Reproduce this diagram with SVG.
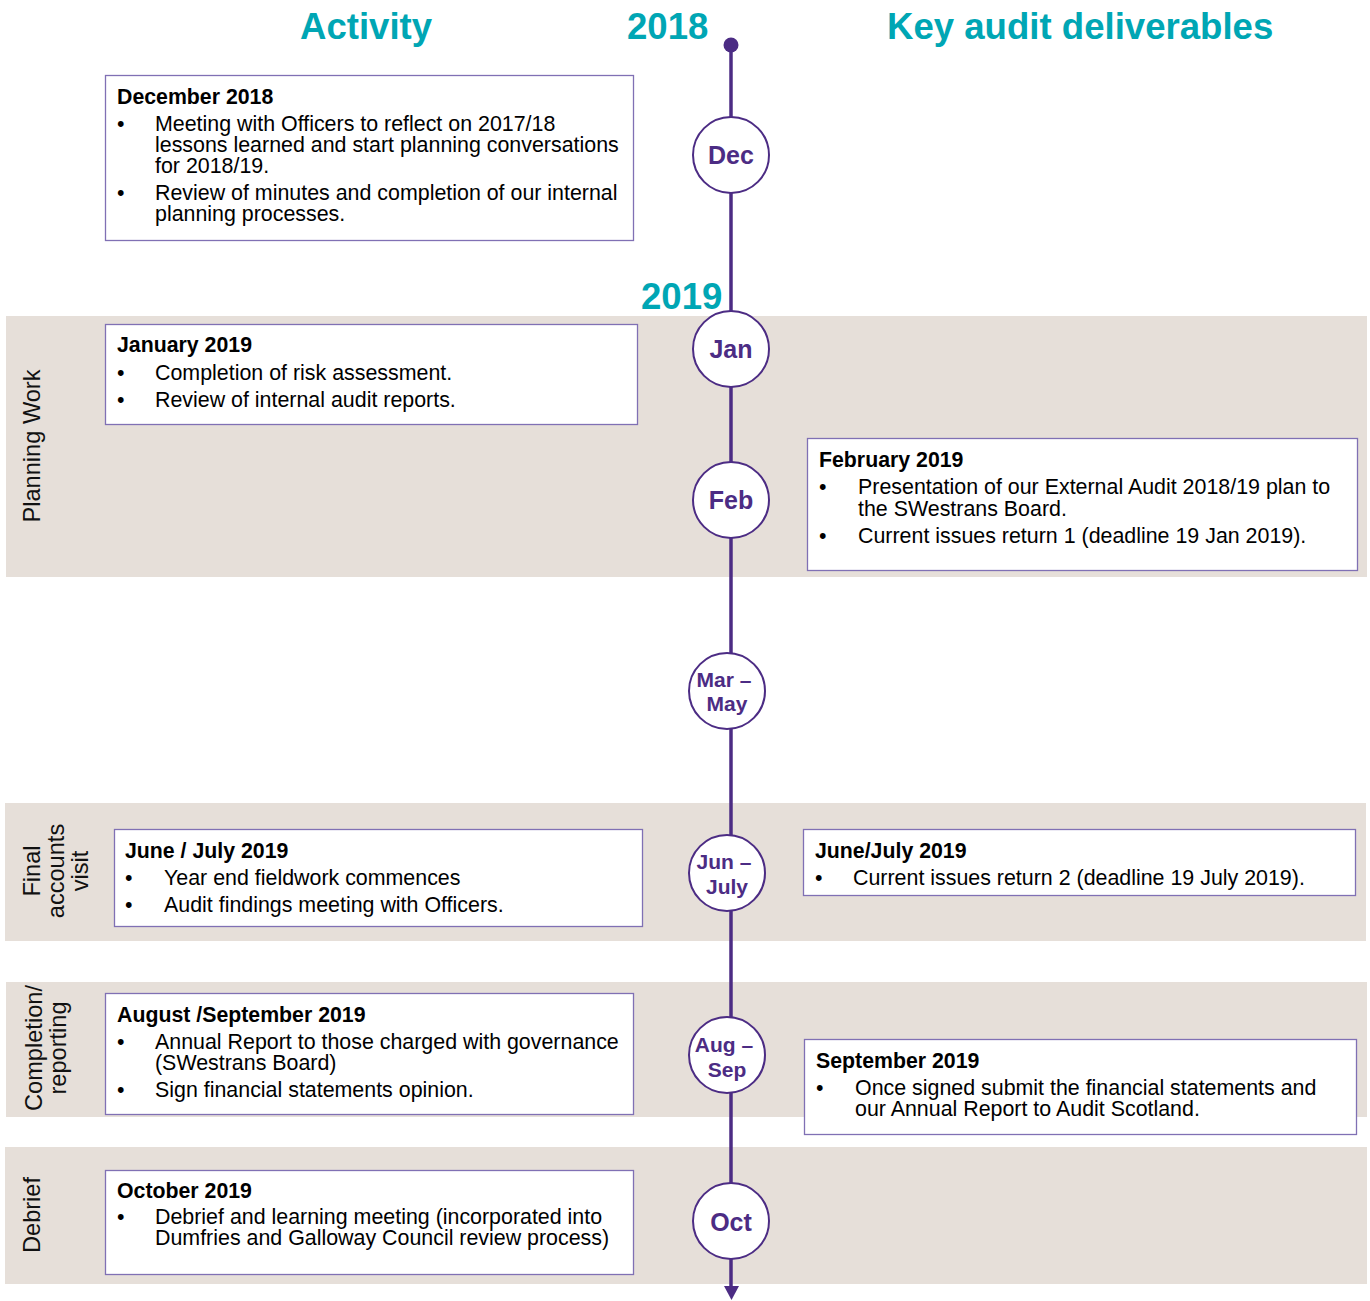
<svg xmlns="http://www.w3.org/2000/svg" width="1370" height="1301" viewBox="0 0 1370 1301">
<defs>
<style>
.band{fill:#e6dfd9}
.head{font-family:"Liberation Sans",Arial,sans-serif;font-weight:bold;font-size:36.6px;fill:#00a6b4}
.box{fill:#fff;stroke:#8070b4;stroke-width:1.3}
.t{font-family:"Liberation Sans",Arial,sans-serif;font-size:21.4px;fill:#000}
.b{font-weight:bold;font-size:21.3px}
.side{font-family:"Liberation Sans",Arial,sans-serif;font-size:23.6px;fill:#111;text-anchor:middle}
.node{fill:#fff;stroke:#4c2c84;stroke-width:2}
.ml{font-family:"Liberation Sans",Arial,sans-serif;font-weight:bold;font-size:25px;fill:#4c2c84;text-anchor:middle}
.ms{font-family:"Liberation Sans",Arial,sans-serif;font-weight:bold;font-size:21px;fill:#4c2c84;text-anchor:middle}
.line{stroke:#4c2c84;stroke-width:3.5;fill:none}
</style>
</defs>
<rect width="1370" height="1301" fill="#fff"/>
<g id="bands">
<rect class="band" x="6" y="316" width="1361" height="261"/>
<rect class="band" x="5" y="803" width="1361" height="138"/>
<rect class="band" x="6" y="982" width="1361" height="135"/>
<rect class="band" x="5" y="1147" width="1362" height="137"/>
</g>
<g id="phase-labels">
<text class="side" transform="translate(40,446) rotate(-90)">Planning Work</text>
<text class="side" transform="translate(40,871) rotate(-90)">Final</text>
<text class="side" transform="translate(64,871) rotate(-90)">accounts</text>
<text class="side" transform="translate(88,871) rotate(-90)">visit</text>
<text class="side" transform="translate(42,1048) rotate(-90)">Completion/</text>
<text class="side" transform="translate(66,1048) rotate(-90)">reporting</text>
<text class="side" transform="translate(40,1215) rotate(-90)">Debrief</text>
</g>
<g id="headings">
<text class="head" x="300" y="39">Activity</text>
<text class="head" x="627" y="39">2018</text>
<text class="head" x="887" y="39">Key audit deliverables</text>
<text class="head" x="641" y="309">2019</text>
</g>
<g id="connectors">
<line class="line" x1="731" y1="45" x2="731" y2="1289"/>
<circle cx="731" cy="45" r="7.5" fill="#4c2c84"/>
<polygon points="724,1286 739,1286 731.5,1300" fill="#4c2c84"/>
</g>
<g id="node-dec"><ellipse class="node" cx="731" cy="155" rx="38" ry="38"/><text class="ml" x="731" y="164">Dec</text></g>
<g id="node-jan"><ellipse class="node" cx="731" cy="349" rx="38" ry="38"/><text class="ml" x="731" y="358">Jan</text></g>
<g id="node-feb"><ellipse class="node" cx="731" cy="500" rx="38" ry="38"/><text class="ml" x="731" y="509">Feb</text></g>
<g id="node-marmay"><ellipse class="node" cx="727" cy="691" rx="38" ry="38"/><text class="ms" x="724" y="687">Mar –</text><text class="ms" x="727" y="711">May</text></g>
<g id="node-junjul"><ellipse class="node" cx="727" cy="873" rx="38" ry="38"/><text class="ms" x="724" y="869">Jun –</text><text class="ms" x="727" y="894">July</text></g>
<g id="node-augsep"><ellipse class="node" cx="727" cy="1055" rx="38" ry="38"/><text class="ms" x="724" y="1052">Aug –</text><text class="ms" x="727" y="1077">Sep</text></g>
<g id="node-oct"><ellipse class="node" cx="731" cy="1221" rx="38" ry="38"/><text class="ml" x="731" y="1231">Oct</text></g>
<g id="box-dec">
<rect class="box" x="105.5" y="75.5" width="528" height="165"/>
<text class="t b" x="117" y="104">December 2018</text>
<text class="t" x="117" y="131">•</text><text class="t" x="155" y="131">Meeting with Officers to reflect on 2017/18</text>
<text class="t" x="155" y="152">lessons learned and start planning conversations</text>
<text class="t" x="155" y="173">for 2018/19.</text>
<text class="t" x="117" y="200">•</text><text class="t" x="155" y="200">Review of minutes and completion of our internal</text>
<text class="t" x="155" y="221">planning processes.</text>
</g>
<g id="box-jan">
<rect class="box" x="105.5" y="324.5" width="532" height="100"/>
<text class="t b" x="117" y="352">January 2019</text>
<text class="t" x="117" y="380">•</text><text class="t" x="155" y="380">Completion of risk assessment.</text>
<text class="t" x="117" y="407">•</text><text class="t" x="155" y="407">Review of internal audit reports.</text>
</g>
<g id="box-feb">
<rect class="box" x="807.5" y="438.5" width="550" height="132"/>
<text class="t b" x="819" y="467">February 2019</text>
<text class="t" x="819" y="494">•</text><text class="t" x="858" y="494">Presentation of our External Audit 2018/19 plan to</text>
<text class="t" x="858" y="516">the SWestrans Board.</text>
<text class="t" x="819" y="543">•</text><text class="t" x="858" y="543">Current issues return 1 (deadline 19 Jan 2019).</text>
</g>
<g id="box-junjul-activity">
<rect class="box" x="114.5" y="829.5" width="528" height="97"/>
<text class="t b" x="125" y="858">June / July 2019</text>
<text class="t" x="125" y="885">•</text><text class="t" x="164" y="885">Year end fieldwork commences</text>
<text class="t" x="125" y="912">•</text><text class="t" x="164" y="912">Audit findings meeting with Officers.</text>
</g>
<g id="box-junjul-deliverable">
<rect class="box" x="803.5" y="829.5" width="552" height="66"/>
<text class="t b" x="815" y="858">June/July 2019</text>
<text class="t" x="815" y="885">•</text><text class="t" x="853" y="885">Current issues return 2 (deadline 19 July 2019).</text>
</g>
<g id="box-augsep">
<rect class="box" x="105.5" y="993.5" width="528" height="121"/>
<text class="t b" x="117" y="1022">August /September 2019</text>
<text class="t" x="117" y="1049">•</text><text class="t" x="155" y="1049">Annual Report to those charged with governance</text>
<text class="t" x="155" y="1070">(SWestrans Board)</text>
<text class="t" x="117" y="1097">•</text><text class="t" x="155" y="1097">Sign financial statements opinion.</text>
</g>
<g id="box-sep">
<rect class="box" x="804.5" y="1039.5" width="552" height="95"/>
<text class="t b" x="816" y="1068">September 2019</text>
<text class="t" x="816" y="1095">•</text><text class="t" x="855" y="1095">Once signed submit the financial statements and</text>
<text class="t" x="855" y="1116">our Annual Report to Audit Scotland.</text>
</g>
<g id="box-oct">
<rect class="box" x="105.5" y="1170.5" width="528" height="104"/>
<text class="t b" x="117" y="1198">October 2019</text>
<text class="t" x="117" y="1224">•</text><text class="t" x="155" y="1224">Debrief and learning meeting (incorporated into</text>
<text class="t" x="155" y="1245">Dumfries and Galloway Council review process)</text>
</g>
</svg>
